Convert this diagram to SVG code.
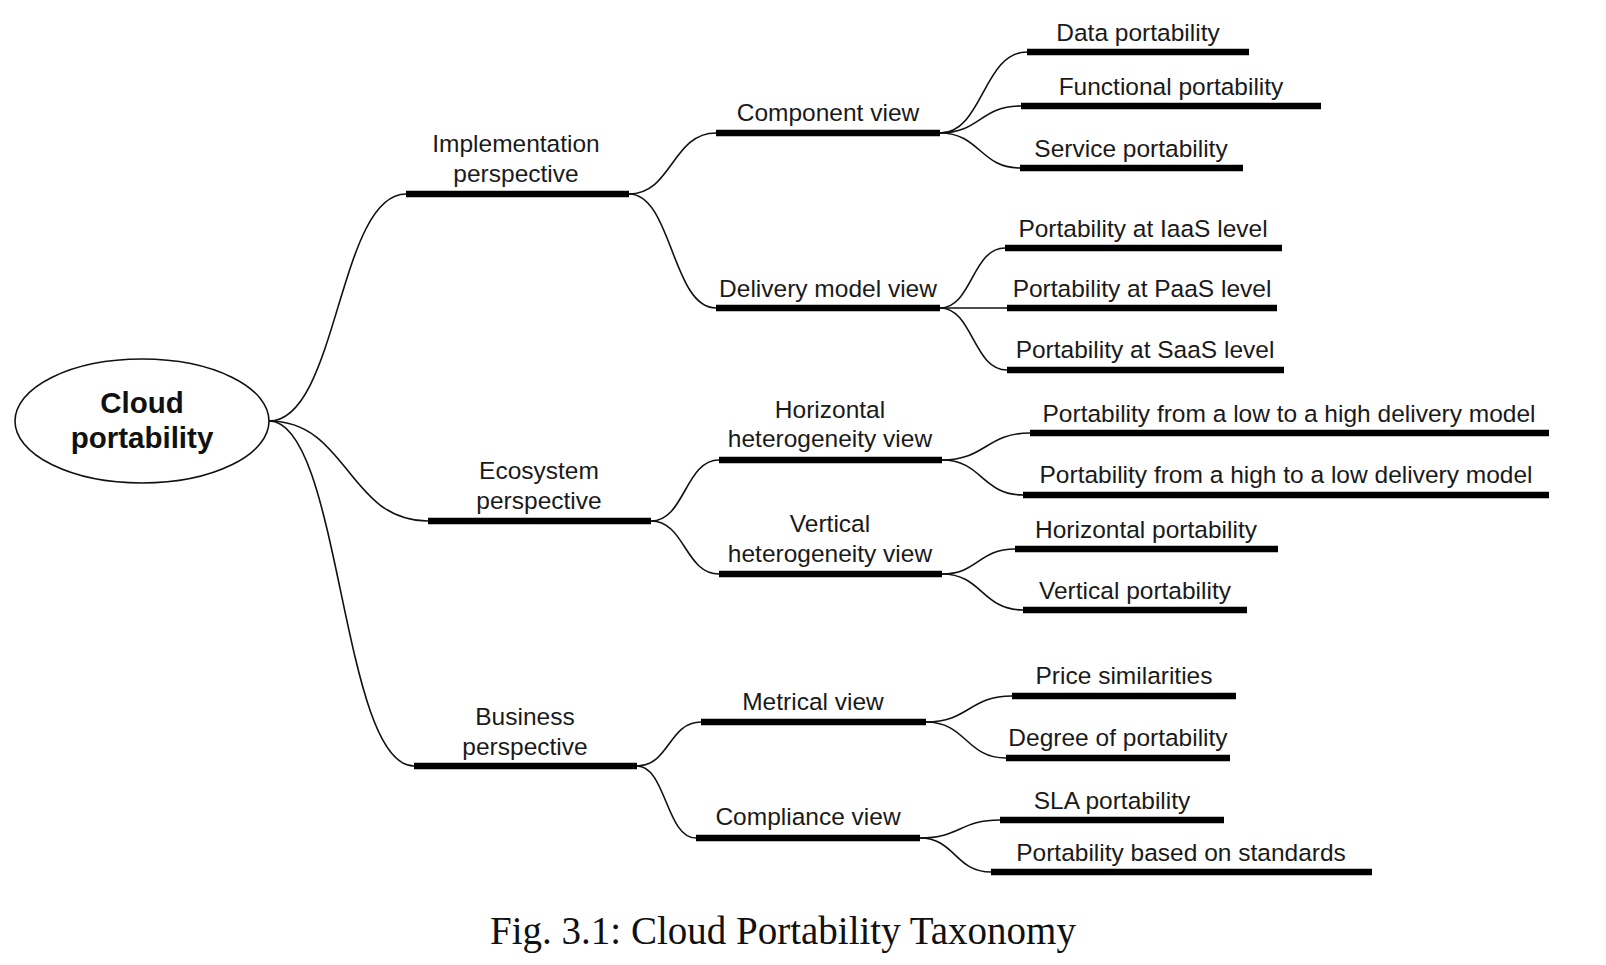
<svg xmlns="http://www.w3.org/2000/svg" width="1606" height="965" viewBox="0 0 1606 965">
<style>
.bar{stroke:#000;stroke-width:6.5;fill:none}
.lbl{font-family:"Liberation Sans",Arial,sans-serif;font-size:24.5px;fill:#1a1a1a;text-anchor:middle}
.root{font-family:"Liberation Sans",Arial,sans-serif;font-size:29.5px;font-weight:bold;fill:#111;text-anchor:middle}
.cap{font-family:"Liberation Serif","Times New Roman",serif;font-size:39px;fill:#111;text-anchor:middle}
#connectors path{stroke:#111;stroke-width:1.6;fill:none}
</style>
<rect width="1606" height="965" fill="#fff"/>
<g id="connectors">
<path d="M269 421 C338 421 338 194 406 194"/>
<path d="M269 421 C348 421 348 521 428 521"/>
<path d="M269 421 C341 421 341 766 414 766"/>
<path d="M629 194 C672 194 672 133 716 133"/>
<path d="M629 194 C672 194 672 308 716 308"/>
<path d="M651 521 C685 521 685 460 719 460"/>
<path d="M651 521 C685 521 685 574 719 574"/>
<path d="M637 766 C669 766 669 722 701 722"/>
<path d="M637 766 C666 766 666 838 696 838"/>
<path d="M940 133 C983 133 983 52 1027 52"/>
<path d="M940 133 C980 133 980 106 1021 106"/>
<path d="M940 133 C980 133 980 168 1020 168"/>
<path d="M940 308 C972 308 972 248 1005 248"/>
<path d="M940 308 C973 308 973 308 1007 308"/>
<path d="M940 308 C973 308 973 370 1007 370"/>
<path d="M942 460 C986 460 986 433 1030 433"/>
<path d="M942 460 C982 460 982 495 1023 495"/>
<path d="M942 574 C978 574 978 549 1015 549"/>
<path d="M942 574 C982 574 982 610 1023 610"/>
<path d="M926 722 C969 722 969 696 1012 696"/>
<path d="M926 722 C966 722 966 758 1006 758"/>
<path d="M920 838 C960 838 960 820 1000 820"/>
<path d="M920 838 C955 838 955 872 991 872"/>
</g>
<g id="root">
<ellipse cx="142" cy="421" rx="127" ry="62" fill="#fff" stroke="#111" stroke-width="1.6"/>
<text class="root" x="142" y="413">Cloud</text>
<text class="root" x="142" y="448">portability</text>
</g>
<g id="implementation">
<line class="bar" x1="406" y1="194" x2="629" y2="194"/>
<text class="lbl" x="516" y="152">Implementation</text>
<text class="lbl" x="516" y="182">perspective</text>
</g>
<g id="ecosystem">
<line class="bar" x1="428" y1="521" x2="651" y2="521"/>
<text class="lbl" x="539" y="479">Ecosystem</text>
<text class="lbl" x="539" y="509">perspective</text>
</g>
<g id="business">
<line class="bar" x1="414" y1="766" x2="637" y2="766"/>
<text class="lbl" x="525" y="725">Business</text>
<text class="lbl" x="525" y="755">perspective</text>
</g>
<g id="component">
<line class="bar" x1="716" y1="133" x2="940" y2="133"/>
<text class="lbl" x="828" y="121">Component view</text>
</g>
<g id="delivery">
<line class="bar" x1="716" y1="308" x2="940" y2="308"/>
<text class="lbl" x="828" y="297">Delivery model view</text>
</g>
<g id="horizontal-het">
<line class="bar" x1="719" y1="460" x2="942" y2="460"/>
<text class="lbl" x="830" y="418">Horizontal</text>
<text class="lbl" x="830" y="447">heterogeneity view</text>
</g>
<g id="vertical-het">
<line class="bar" x1="719" y1="574" x2="942" y2="574"/>
<text class="lbl" x="830" y="532">Vertical</text>
<text class="lbl" x="830" y="562">heterogeneity view</text>
</g>
<g id="metrical">
<line class="bar" x1="701" y1="722" x2="926" y2="722"/>
<text class="lbl" x="813" y="710">Metrical view</text>
</g>
<g id="compliance">
<line class="bar" x1="696" y1="838" x2="920" y2="838"/>
<text class="lbl" x="808" y="825">Compliance view</text>
</g>
<g id="data">
<line class="bar" x1="1027" y1="52" x2="1249" y2="52"/>
<text class="lbl" x="1138" y="41">Data portability</text>
</g>
<g id="functional">
<line class="bar" x1="1021" y1="106" x2="1321" y2="106"/>
<text class="lbl" x="1171" y="95">Functional portability</text>
</g>
<g id="service">
<line class="bar" x1="1020" y1="168" x2="1243" y2="168"/>
<text class="lbl" x="1131" y="157">Service portability</text>
</g>
<g id="iaas">
<line class="bar" x1="1005" y1="248" x2="1282" y2="248"/>
<text class="lbl" x="1143" y="237">Portability at IaaS level</text>
</g>
<g id="paas">
<line class="bar" x1="1007" y1="308" x2="1277" y2="308"/>
<text class="lbl" x="1142" y="297">Portability at PaaS level</text>
</g>
<g id="saas">
<line class="bar" x1="1007" y1="370" x2="1284" y2="370"/>
<text class="lbl" x="1145" y="358">Portability at SaaS level</text>
</g>
<g id="low-high">
<line class="bar" x1="1030" y1="433" x2="1549" y2="433"/>
<text class="lbl" x="1289" y="422">Portability from a low to a high delivery model</text>
</g>
<g id="high-low">
<line class="bar" x1="1023" y1="495" x2="1549" y2="495"/>
<text class="lbl" x="1286" y="483">Portability from a high to a low delivery model</text>
</g>
<g id="horizontal-portability">
<line class="bar" x1="1015" y1="549" x2="1278" y2="549"/>
<text class="lbl" x="1146" y="538">Horizontal portability</text>
</g>
<g id="vertical-portability">
<line class="bar" x1="1023" y1="610" x2="1247" y2="610"/>
<text class="lbl" x="1135" y="599">Vertical portability</text>
</g>
<g id="price">
<line class="bar" x1="1012" y1="696" x2="1236" y2="696"/>
<text class="lbl" x="1124" y="684">Price similarities</text>
</g>
<g id="degree">
<line class="bar" x1="1006" y1="758" x2="1230" y2="758"/>
<text class="lbl" x="1118" y="746">Degree of portability</text>
</g>
<g id="sla">
<line class="bar" x1="1000" y1="820" x2="1224" y2="820"/>
<text class="lbl" x="1112" y="809">SLA portability</text>
</g>
<g id="standards">
<line class="bar" x1="991" y1="872" x2="1372" y2="872"/>
<text class="lbl" x="1181" y="861">Portability based on standards</text>
</g>
<text class="cap" x="783" y="944">Fig. 3.1: Cloud Portability Taxonomy</text>
</svg>
